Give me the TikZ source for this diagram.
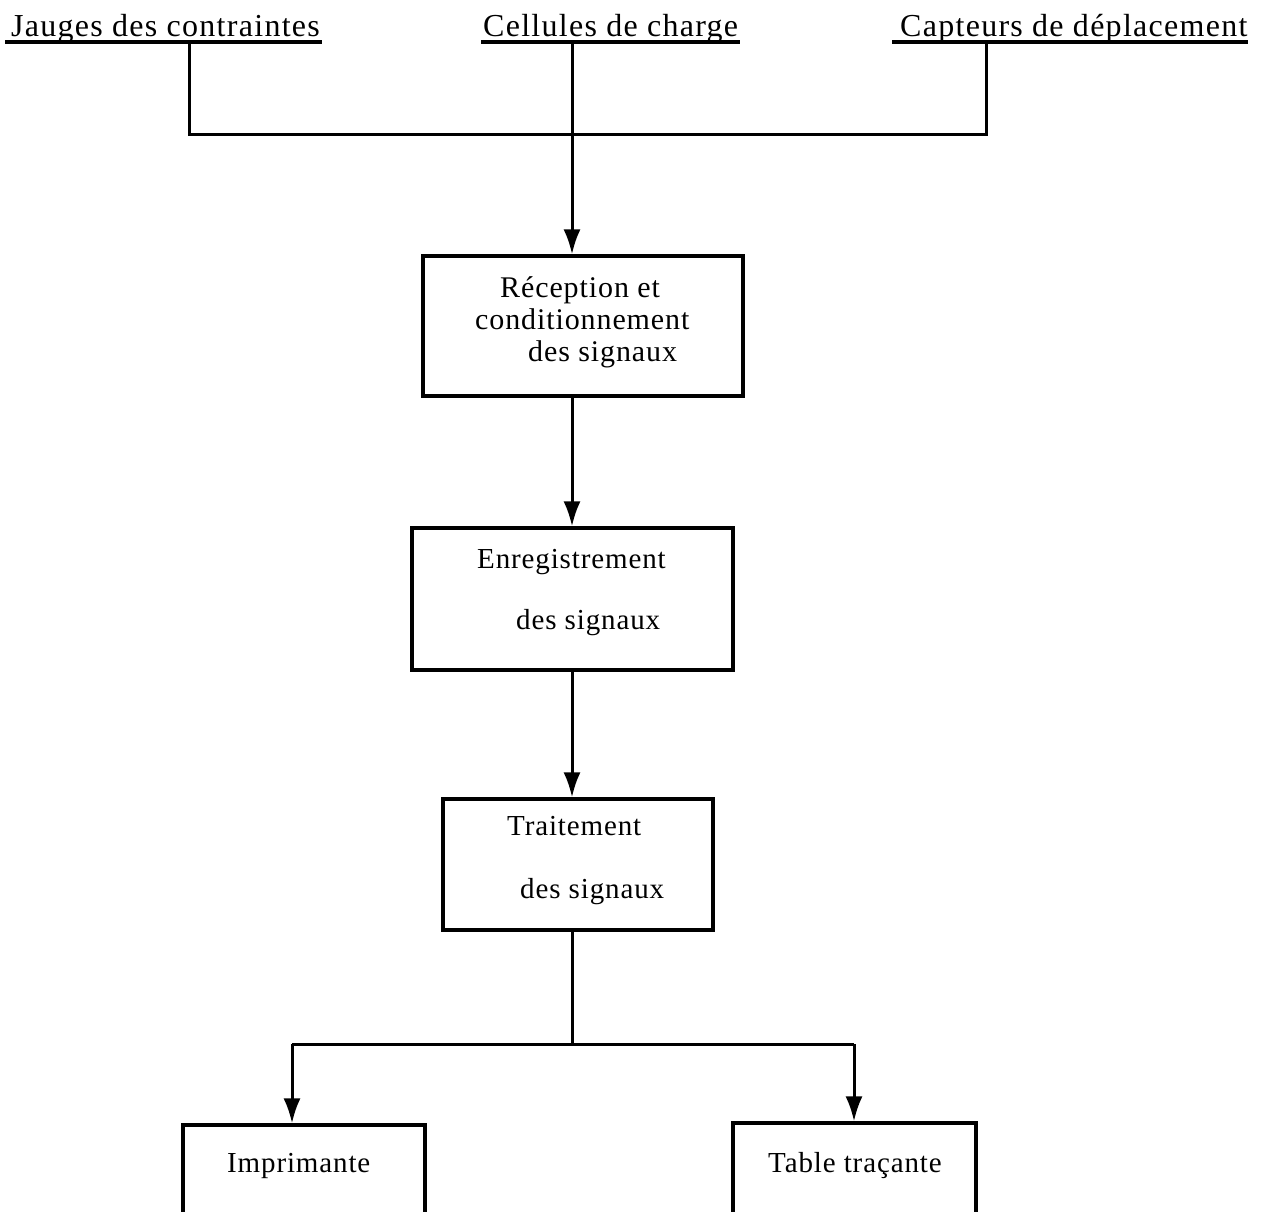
\documentclass[tikz,border=0pt]{standalone}
\usepackage{fontspec}
\setmainfont{Liberation Serif}
\newfontfamily\labfont[LetterSpace=4]{Liberation Serif}
\newfontfamily\boxfont[LetterSpace=3]{Liberation Serif}
\usetikzlibrary{arrows.meta}
\begin{document}
\begin{tikzpicture}[x=1pt,y=-1pt,
  lab/.style={anchor=base west,inner sep=0pt,font=\labfont\fontsize{32}{38}\selectfont},
  txt/.style={anchor=base west,inner sep=0pt,font=\boxfont\fontsize{29}{34}\selectfont},
  txtb/.style={anchor=base west,inner sep=0pt,font=\boxfont\fontsize{30}{35}\selectfont},
  box/.style={draw,line width=3.2pt,inner sep=0pt,rectangle},
  wire/.style={line width=3pt},
  ul/.style={line width=3.2pt},
  arrow/.style={line width=3pt,-{Latex[width=17pt,length=25pt]}}
]
\useasboundingbox (0,0) rectangle (1279,1211);
\fill[white] (0,0) rectangle (1279,1211);
\clip (0,0) rectangle (1279,1211);

% top labels
\node[lab] (jauges) at (11,36) {Jauges des contraintes};
\node[lab] (cellules) at (483,36) {Cellules de charge};
\node[lab] (capteurs) at (900,36) {Capteurs de déplacement};

\draw[ul] ([xshift=-6pt]jauges.west |- 0,42) -- ([xshift=2pt]jauges.east |- 0,42);
\draw[ul] ([xshift=-2pt]cellules.west |- 0,42) -- ([xshift=2pt]cellules.east |- 0,42);
\draw[ul] ([xshift=-8pt]capteurs.west |- 0,42) -- ([xshift=0pt]capteurs.east |- 0,42);

% boxes
\node[box,minimum width=320pt,minimum height=140pt] (b1) at (583,326) {};
\node[box,minimum width=321pt,minimum height=142pt] (b2) at (572.5,599) {};
\node[box,minimum width=270pt,minimum height=131pt] (b3) at (578,864.5) {};
\node[box,minimum width=242pt,minimum height=120pt] (b4) at (304,1185) {};
\node[box,minimum width=243pt,minimum height=122pt] (b5) at (854.5,1184) {};

% box texts
\node[txtb] (r1) at (500,297) {Réception et};
\node[txtb] (r2) at (475,329) {conditionnement};
\node[txtb] (r3) at (528,361) {des signaux};
\node[txt] (e1) at (477,568) {Enregistrement};
\node[txt] (e2) at (516,629) {des signaux};
\node[txt] (t1) at (507,835) {Traitement};
\node[txt] (t2) at (520,898) {des signaux};
\node[txt] (i1) at (227,1172) {Imprimante};
\node[txt] (p1) at (768,1172) {Table traçante};

% connectors
\coordinate (jd) at (189,42);
\coordinate (cd) at (572,42);
\coordinate (kd) at (986,42);
\coordinate (jm) at (189,134);
\coordinate (km) at (986,134);
\coordinate (split) at (572,1044);
\coordinate (lm) at (292,1044);
\coordinate (rm) at (854,1044);

\draw[wire] (jd) -- (jm) -- (km) -- (kd);
\draw[arrow] (cd) -- (cd |- b1.north);
\draw[arrow] (b1.south -| cd) -- (cd |- b2.north);
\draw[arrow] (b2.south -| cd) -- (cd |- b3.north);
\draw[wire] (b3.south -| cd) -- (split);
\draw[wire] (lm) -- (rm);
\draw[arrow] (lm) -- (lm |- b4.north);
\draw[arrow] (rm) -- (rm |- b5.north);
\end{tikzpicture}
\end{document}
